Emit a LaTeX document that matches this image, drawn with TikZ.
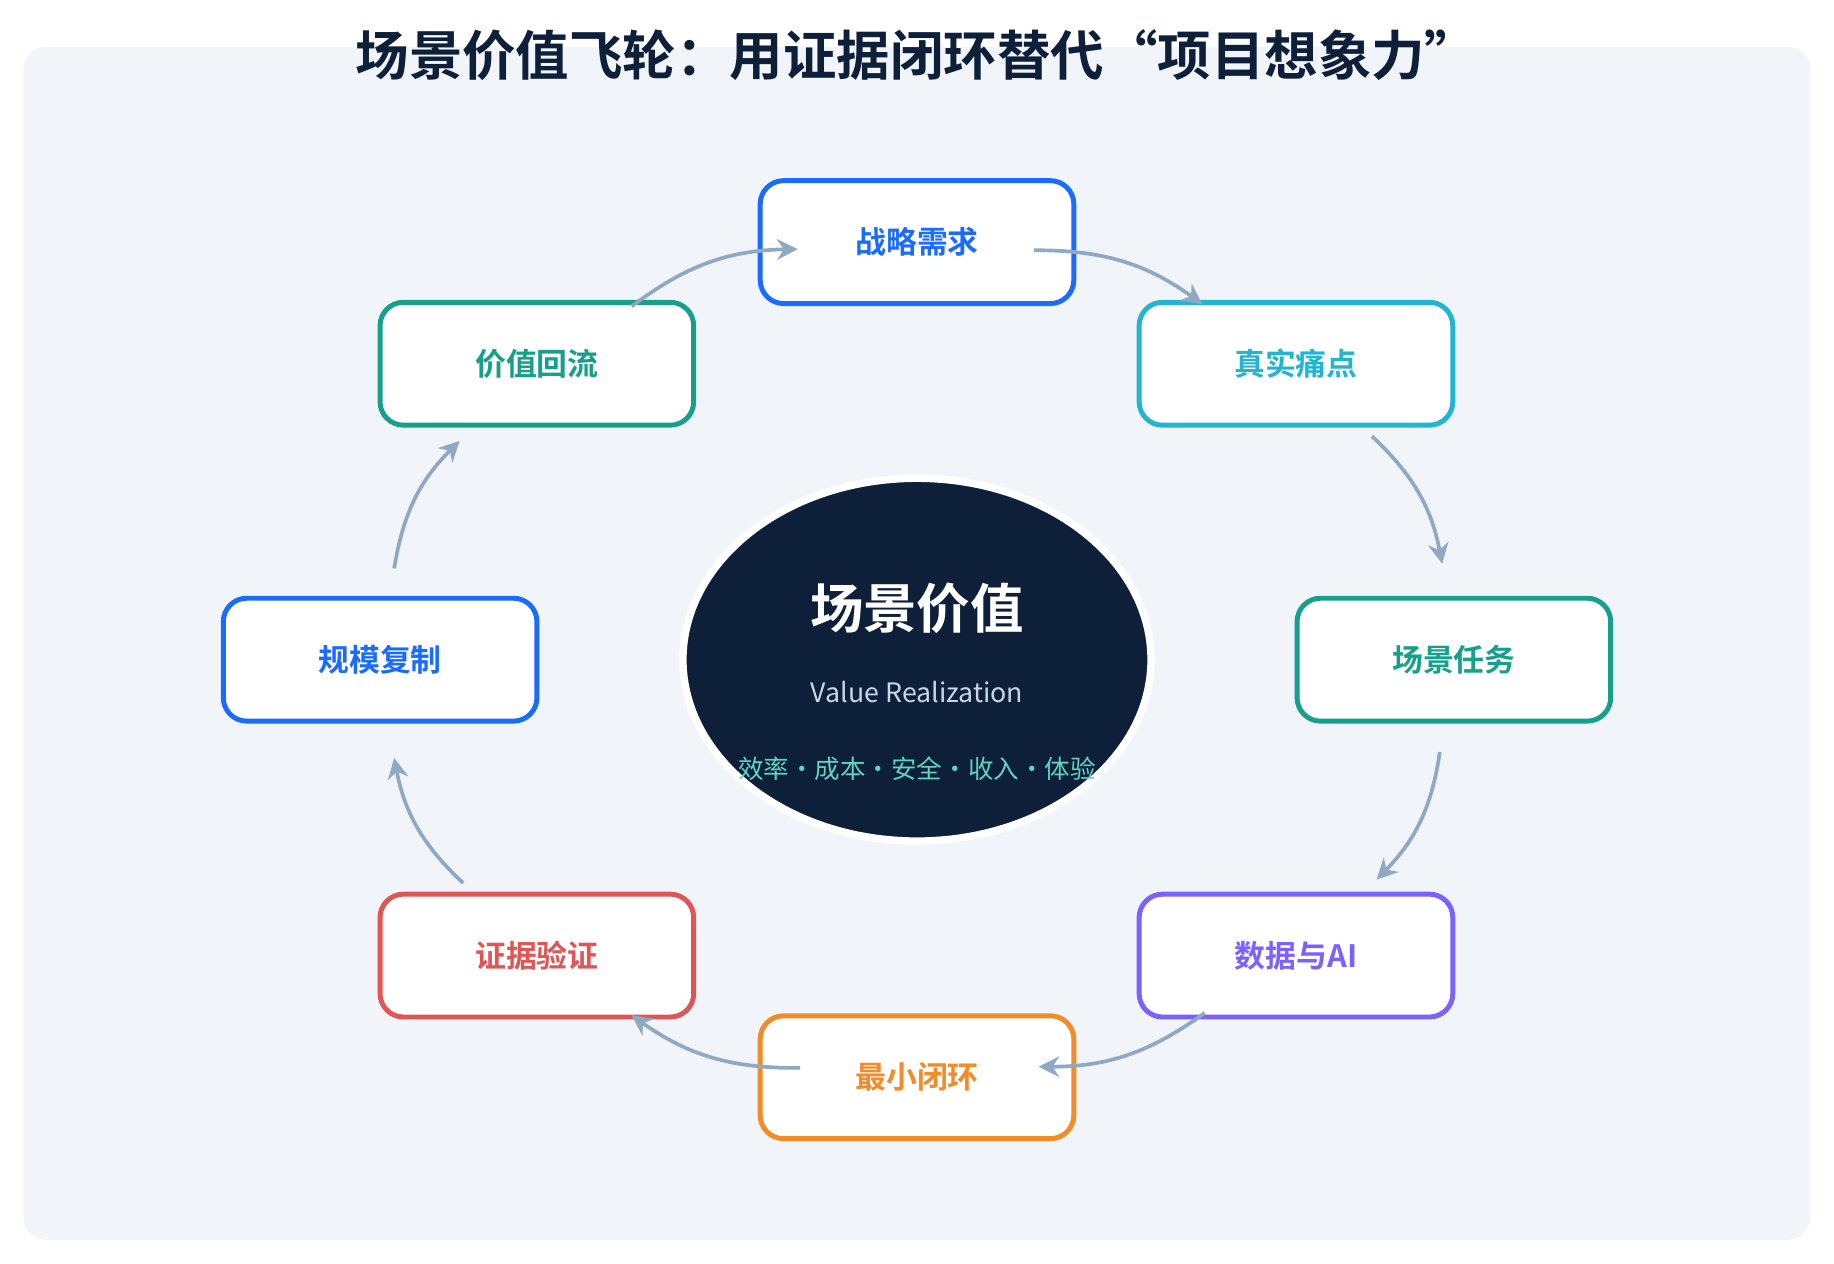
\documentclass[tikz,border=0pt]{standalone}
\usepackage{fontspec}
\setmainfont{Noto Sans CJK SC}[BoldFont={* Bold}]
\usepackage{tikz}
\usetikzlibrary{arrows.meta, shapes, calc, positioning}
\definecolor{navy}{HTML}{0E1F3A}
\definecolor{bgpanel}{HTML}{F1F5FA}
\definecolor{cblue}{HTML}{1A6BFF}
\definecolor{ccyan}{HTML}{22B5D0}
\definecolor{cteal}{HTML}{16A08C}
\definecolor{cpurple}{HTML}{7B61FF}
\definecolor{corange}{HTML}{F28C28}
\definecolor{cred}{HTML}{E05555}
\definecolor{flow}{HTML}{8FA8C4}
\definecolor{subtxt}{HTML}{C8D6E8}
\definecolor{kpi}{HTML}{5FD4C4}
\tikzset {
    stage/.style args = {#1}{
        draw = #1,
        text = #1,
        fill = white,
        shape = rectangle,
        rounded corners = 0.2cm,
        line width = 1.2pt,
        minimum width = 2.68cm,
        minimum height = 1.05cm,
        font = \fontsize{7.5}{9}\selectfont\bfseries
    },
    core/.style = {
        draw = white,
        fill = navy,
        shape = ellipse,
        line width = 1.8pt,
        minimum width = 4.0cm,
        minimum height = 3.1cm
    },
    flowarrow/.style = {
        ->,
        >={Stealth[length=5pt, width=5pt]},
        line width = 0.9pt,
        draw = flow,
        bend left = 18
    }
}
\begin{document}
\begin{tikzpicture}[x=0.01cm, y=-0.01cm]
        \useasboundingbox (0, 0) rectangle (1568, 1080);
        \fill [bgpanel, rounded corners=0.2cm] (20, 40) rectangle (1548, 1060);
        \node [text=navy, font=\fontsize{13}{15}\selectfont\bfseries] at (784, 47) (title)
            {场景价值飞轮：用证据闭环替代“项目想象力”};

        % Centre : value core
        \node [core] at (784, 564) (core) {};
        \node [text=white, font=\fontsize{13}{15}\selectfont\bfseries] at (784, 520) (coretitle) {场景价值};
        \node [text=subtxt, font=\fontsize{6.5}{8}\selectfont] at (784, 592) (coresub) {Value Realization};
        \node [text=kpi, font=\fontsize{6.2}{8}\selectfont] at (784, 657) (corekpi) {效率・成本・安全・收入・体验};

        % Ring of stages, clockwise from the top
        \node [stage=cblue]   at (784, 207)  (need)    {战略需求};
        \node [stage=ccyan]   at (1108, 311) (pain)    {真实痛点};
        \node [stage=cteal]   at (1243, 564) (task)    {场景任务};
        \node [stage=cpurple] at (1108, 817) (data)    {数据与AI};
        \node [stage=corange] at (784, 921)  (loop)    {最小闭环};
        \node [stage=cred]    at (459, 817)  (proof)   {证据验证};
        \node [stage=cblue]   at (325, 564)  (scale)   {规模复制};
        \node [stage=cteal]   at (459, 311)  (reflow)  {价值回流};

        % Arrow end points
        \coordinate (a1s) at (540, 262);   \coordinate (a1e) at (682, 213);
        \coordinate (a2s) at (884, 214);   \coordinate (a2e) at (1028, 260);
        \coordinate (a3s) at (1173, 373);  \coordinate (a3e) at (1233, 482);
        \coordinate (a4s) at (1231, 643);  \coordinate (a4e) at (1177, 752);
        \coordinate (a5s) at (1030, 866);  \coordinate (a5e) at (888, 912);
        \coordinate (a6s) at (684, 913);   \coordinate (a6e) at (540, 868);
        \coordinate (a7s) at (396, 755);   \coordinate (a7e) at (337, 648);
        \coordinate (a8s) at (337, 486);   \coordinate (a8e) at (393, 377);

        \path [flowarrow]  (a1s) to (a1e);
        \path [flowarrow]  (a2s) to (a2e);
        \path [flowarrow]  (a3s) to (a3e);
        \path [flowarrow]  (a4s) to (a4e);
        \path [flowarrow]  (a5s) to (a5e);
        \path [flowarrow]  (a6s) to (a6e);
        \path [flowarrow]  (a7s) to (a7e);
        \path [flowarrow]  (a8s) to (a8e);
\end{tikzpicture}
\end{document}
